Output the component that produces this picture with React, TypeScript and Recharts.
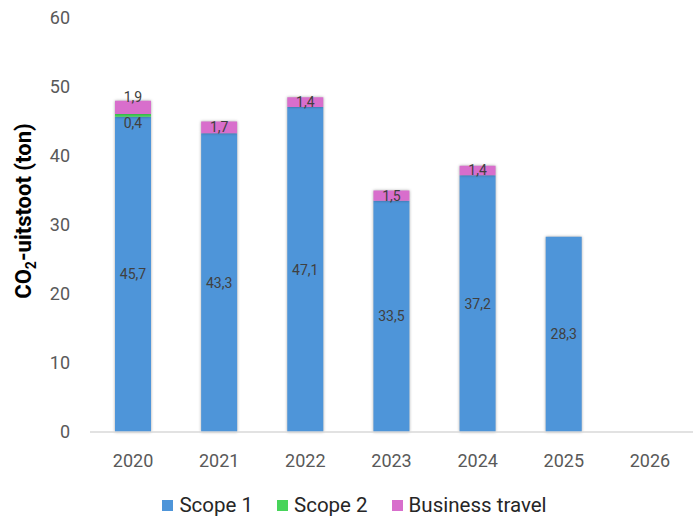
import { BarChart, Bar, XAxis, YAxis, Legend, LabelList } from 'recharts';

const years = ['2020', '2021', '2022', '2023', '2024', '2025', '2026'];
const scope1 = [45.7, 43.3, 47.1, 33.5, 37.2, 28.3, null];
const scope2 = [0.4, 0, 0, 0, 0, 0, null];
const travel = [1.9, 1.7, 1.4, 1.5, 1.4, null, null];
const yTicks = [0, 10, 20, 30, 40, 50, 60];

const colors = { scope1: '#4e95d9', scope2: '#47d45a', travel: '#d86ecc' };
const font = 'Roboto, "Liberation Sans", sans-serif';

const data = years.map((year, i) => ({
  year,
  scope1: scope1[i],
  scope2: scope2[i],
  travel: travel[i],
}));

const fmt = (v: number) => v.toFixed(1).replace('.', ',');

const labelStyle = { fontSize: 14, fill: '#404040', fontFamily: font };

const centerLabel = (props: any) => {
  const { x, y, width, height, value, index } = props;
  if (value == null || value === 0) return null;
  // 2020 has a scope 2 label below, so travel label is pushed up
  const shift = props.kind === 'travel' && scope2[index] ? -10 : 0;
  return (
    <text x={x + width / 2} y={y + height / 2 + shift} textAnchor="middle" dominantBaseline="central" {...labelStyle}>
      {fmt(value)}
    </text>
  );
};

const belowLabel = (props: any) => {
  const { x, y, width, height, value } = props;
  if (!value) return null;
  return (
    <text x={x + width / 2} y={y + height + 6} textAnchor="middle" dominantBaseline="central" {...labelStyle}>
      {fmt(value)}
    </text>
  );
};

const YLabel = () => (
  <text transform="translate(31, 211) rotate(-90)" textAnchor="middle" fontSize={22} fontWeight="bold" fill="#000" fontFamily={font}>
    CO<tspan fontSize={14} dy={5}>2</tspan><tspan dy={-5}>-uitstoot (ton)</tspan>
  </text>
);

const legendItems = [
  { name: 'Scope 1', color: colors.scope1 },
  { name: 'Scope 2', color: colors.scope2 },
  { name: 'Business travel', color: colors.travel },
];

const renderLegend = () => (
  <div style={{ height: 35, display: 'flex', justifyContent: 'center', alignItems: 'center', paddingTop: 12, paddingLeft: 16, boxSizing: 'border-box', fontFamily: font, fontSize: 20.5, lineHeight: 1, color: '#262626' }}>
    {legendItems.map(item => (
      <span key={item.name} style={{ display: 'inline-flex', alignItems: 'center', margin: '0 12px' }}>
        <span style={{ width: 11, height: 11, background: item.color, display: 'inline-block', marginRight: 6 }} />
        {item.name}
      </span>
    ))}
  </div>
);

export default function App() {
  return (
    <div style={{ position: 'absolute', left: 0, top: 0, width: 693, height: 517, background: '#fff' }}>
      <style>{`.recharts-bar-rectangle path { filter: drop-shadow(0 0 1.5px rgba(0,0,0,0.35)); }`}</style>
      <BarChart width={693} height={517} data={data} margin={{ top: 18, right: 0, left: 0, bottom: 0 }} barSize={36}>
        <XAxis
          dataKey="year"
          height={50}
          tickLine={false}
          axisLine={{ stroke: '#d9d9d9', strokeWidth: 1.5 }}
          tickMargin={16}
          tick={{ fontSize: 18, fill: '#595959', fontFamily: font }}
        />
        <YAxis
          width={90}
          domain={[0, 60]}
          ticks={yTicks}
          axisLine={false}
          tickLine={false}
          tickMargin={14}
          tick={{ fontSize: 18, fill: '#595959', fontFamily: font }}
          label={{ content: () => <YLabel /> }}
        />
        <Legend verticalAlign="bottom" content={renderLegend} />
        <Bar dataKey="scope1" stackId="a" fill={colors.scope1} isAnimationActive={false}>
          <LabelList dataKey="scope1" content={(p: any) => centerLabel({ ...p, kind: 'scope1' })} />
        </Bar>
        <Bar dataKey="scope2" stackId="a" fill={colors.scope2} isAnimationActive={false}>
          <LabelList dataKey="scope2" content={belowLabel} />
        </Bar>
        <Bar dataKey="travel" stackId="a" fill={colors.travel} isAnimationActive={false}>
          <LabelList dataKey="travel" content={(p: any) => centerLabel({ ...p, kind: 'travel' })} />
        </Bar>
      </BarChart>
    </div>
  );
}
